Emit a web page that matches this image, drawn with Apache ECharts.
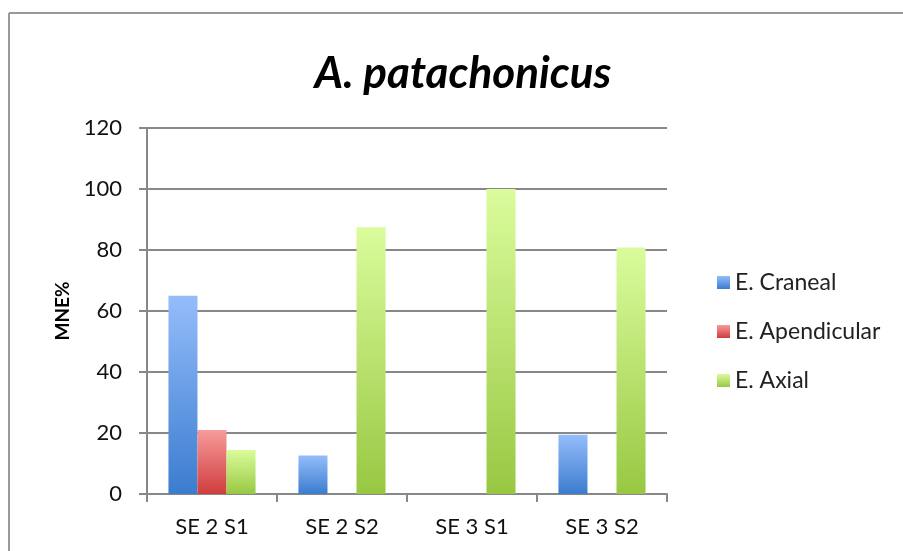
<!DOCTYPE html>
<html>
<head>
<meta charset="utf-8">
<script src="https://cdn.jsdelivr.net/npm/echarts@6/dist/echarts.min.js"></script>
<style>html,body{margin:0;padding:0;background:#fff}#c{width:903px;height:551px}</style>
</head>
<body>
<div id="c"></div>
<script>
const categories = ['SE 2 S1', 'SE 2 S2', 'SE 3 S1', 'SE 3 S2'];
const seriesNames = ['E. Craneal', 'E. Apendicular', 'E. Axial'];
const craneal = [65, 12.6, 0, 19.4];
const apendicular = [21, 0, 0, 0];
const axial = [14.4, 87.5, 100, 80.8];
const yTicks = [0, 20, 40, 60, 80, 100, 120];

const grads = [
  ['#94bdfa', '#3b7ccf'],
  ['#f79b9b', '#d03d3d'],
  ['#dafc9c', '#98c842']
];
function g(i) {
  return new echarts.graphic.LinearGradient(0, 0, 0, 1, [
    { offset: 0, color: grads[i][0] },
    { offset: 1, color: grads[i][1] }
  ]);
}
const dataSets = [craneal, apendicular, axial];
const FONT = 'Lato, "Open Sans", sans-serif';

const chart = echarts.init(document.getElementById('c'));
chart.setOption({
  animation: false,
  backgroundColor: '#fff',
  graphic: [
    { type: 'line', shape: { x1: 9, y1: 13, x2: 903, y2: 13 }, style: { stroke: '#999', lineWidth: 2 } },
    { type: 'line', shape: { x1: 9, y1: 13, x2: 9, y2: 551 }, style: { stroke: '#999', lineWidth: 2 } }
  ],
  title: {
    text: 'A. patachonicus',
    left: 458, top: 47, textAlign: 'center',
    textStyle: { fontFamily: FONT, fontSize: 44, fontWeight: 'bold', fontStyle: 'italic', color: '#000' }
  },
  legend: {
    orient: 'vertical', left: 712, top: 266,
    itemWidth: 13, itemHeight: 13, itemGap: 26,
    textStyle: { fontFamily: FONT, fontSize: 23, color: '#222' },
    data: seriesNames.map((n, i) => ({ name: n, icon: 'rect', itemStyle: { color: g(i) } }))
  },
  grid: { left: 147, top: 128, width: 520, height: 366, containLabel: false },
  xAxis: {
    type: 'category', data: categories,
    axisLine: { lineStyle: { color: '#888', width: 2 } },
    axisTick: { show: true, length: 8, lineStyle: { color: '#888', width: 2 } },
    axisLabel: { fontFamily: FONT, fontSize: 22, color: '#111', margin: 22 }
  },
  yAxis: {
    type: 'value', min: 0, max: 120, interval: 20,
    name: 'MNE%', nameLocation: 'middle', nameGap: 72, nameRotate: 90,
    nameTextStyle: { fontFamily: FONT, fontSize: 19, fontWeight: 'bold', color: '#000' },
    axisLine: { show: true, lineStyle: { color: '#888', width: 2 } },
    axisTick: { show: true, length: 8, lineStyle: { color: '#888', width: 2 } },
    axisLabel: { fontFamily: FONT, fontSize: 22, color: '#111', margin: 25,
      formatter: v => yTicks.includes(v) ? String(v) : '' },
    splitLine: { lineStyle: { color: '#888', width: 2 } }
  },
  series: seriesNames.map((n, i) => ({
    name: n, type: 'bar', data: dataSets[i],
    barGap: '0%', barCategoryGap: '33%',
    itemStyle: { color: g(i) }
  }))
});
</script>
</body>
</html>
